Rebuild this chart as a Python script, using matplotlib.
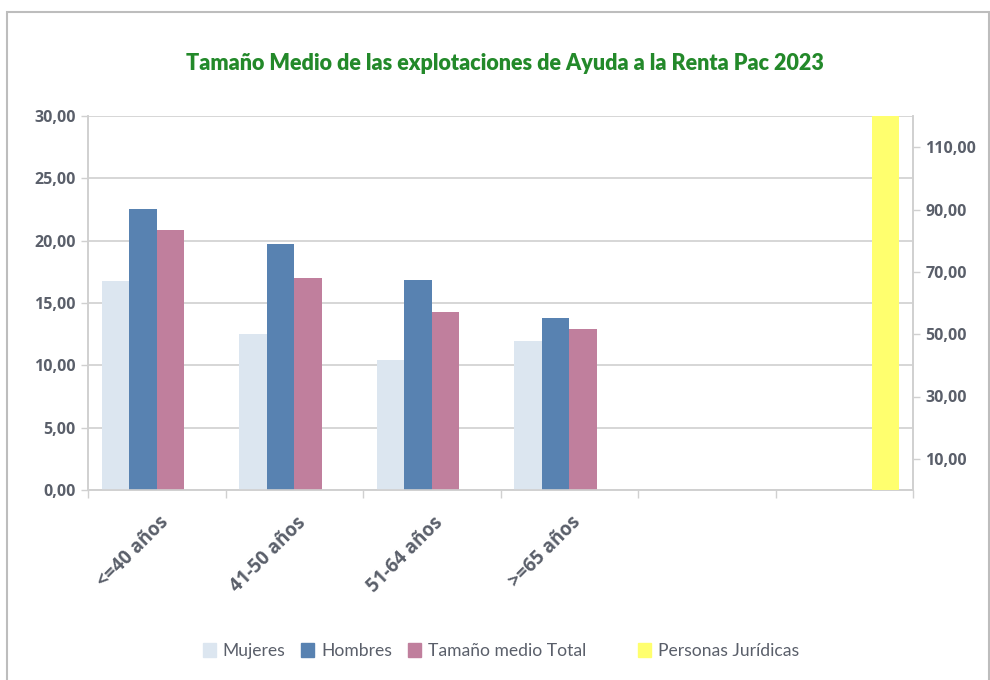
import matplotlib
matplotlib.use("Agg")
import matplotlib.pyplot as plt
import numpy as np
from matplotlib.patches import Rectangle, Patch

categories = ["<=40 años", "41-50 años", "51-64 años", ">=65 años", "", ""]
mujeres = [16.8, 12.48, 10.45, 11.98, None, None]
hombres = [22.58, 19.74, 16.85, 13.76, None, None]
total = [20.85, 16.97, 14.24, 12.9, None, None]
personas_juridicas = [None, None, None, None, None, 120.0]

left_ticks = [0, 5, 10, 15, 20, 25, 30]
right_ticks = [10, 30, 50, 70, 90, 110]

c_muj = "#dce6f0"
c_hom = "#5882b1"
c_tot = "#c07f9d"
c_pj = "#ffff6e"
txt_col = "#5a5f6a"
grid_col = "#d0d0d0"

fig = plt.figure(figsize=(9.9, 6.8), dpi=100)
ax = fig.add_axes([88/990, 1-490/680, (913-88)/990, (490-116)/680])
ax2 = ax.twinx()

x = np.arange(len(categories)) + 0.5
w = 0.2
def vals(v):
    return [np.nan if a is None else a for a in v]

ax.bar(x - 1.5*w, vals(mujeres), w, color=c_muj, zorder=3)
ax.bar(x - 0.5*w, vals(hombres), w, color=c_hom, zorder=3)
ax.bar(x + 0.5*w, vals(total), w, color=c_tot, zorder=3)
ax2.bar(x + 1.5*w, vals(personas_juridicas), w, color=c_pj, zorder=3)

ax.set_xlim(0, len(categories))
ax.set_ylim(0, 30)
ax2.set_ylim(0, 120)
ax.set_yticks(left_ticks)
ax.set_yticklabels([f"{t:.2f}".replace(".", ",") for t in left_ticks])
ax2.set_yticks(right_ticks)
ax2.set_yticklabels([f"{t:.2f}".replace(".", ",") for t in right_ticks])
ax.yaxis.grid(True, color=grid_col, linewidth=1.2, zorder=0)
ax.set_axisbelow(True)

ax.set_xticks(np.arange(len(categories) + 1))
ax.set_xticklabels([])
ax.tick_params(axis="x", length=6, color=grid_col, width=1)
ax.tick_params(axis="y", length=5, color=grid_col, width=1, pad=4,
               labelsize=11.5, labelcolor=txt_col)
ax2.tick_params(axis="y", length=5, color=grid_col, width=1, pad=4,
                labelsize=11.5, labelcolor=txt_col)
for lab in ax.get_yticklabels() + ax2.get_yticklabels():
    lab.set_fontweight("bold")
    lab.set_family("Open Sans")

for a in (ax, ax2):
    a.spines["top"].set_visible(False)
    for s in ("left", "right", "bottom"):
        a.spines[s].set_color(grid_col)
        a.spines[s].set_linewidth(1.2)

for xi, lab in zip(x, categories):
    if lab:
        ax.text(xi + 0.01, -0.06, lab, transform=ax.get_xaxis_transform(),
                rotation=45, rotation_mode="anchor", ha="right", va="top",
                fontsize=13.5, fontweight="bold", color=txt_col, family="Open Sans")

fig.text(505/990, 1-63/680, "Tamaño Medio de las explotaciones de Ayuda a la Renta Pac 2023",
         ha="center", va="center", fontsize=15.5, fontweight="heavy",
         color="#23892a", family="Lato")

handles = [Patch(color=c_muj), Patch(color=c_hom), Patch(color=c_tot),
           Patch(color="none"), Patch(color=c_pj)]
labels = ["Mujeres", "Hombres", "Tamaño medio Total", "", "Personas Jurídicas"]
leg = fig.legend(handles, labels, loc="center", bbox_to_anchor=(501/990, 1-651/680),
                 ncol=5, frameon=False, handlelength=0.75, handleheight=0.9,
                 handletextpad=0.4, columnspacing=0.9,
                 prop={"family": "Lato", "size": 12.6})
for t in leg.get_texts():
    t.set_color(txt_col)

fig.patches.append(Rectangle((7/990, -0.1), 982/990, 1.1 - 12/680 + 0.0,
                             transform=fig.transFigure, fill=False,
                             edgecolor="#bdbdbd", linewidth=1.5))

fig.savefig("out.png", dpi=100)
